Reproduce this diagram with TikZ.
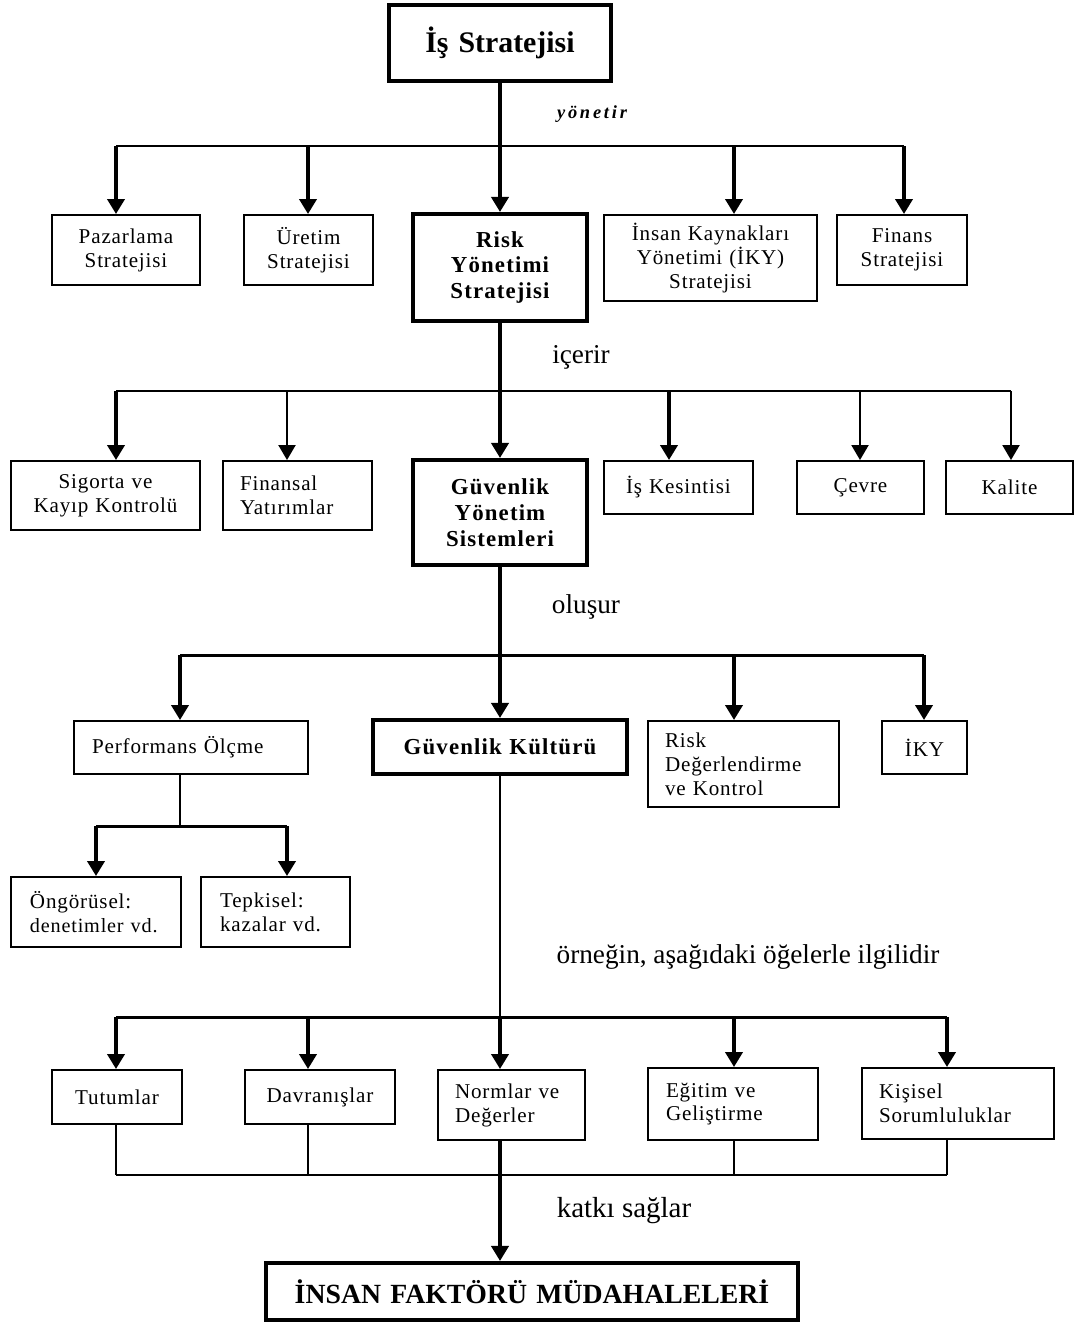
\documentclass[tikz,border=0pt]{standalone}
\usepackage{fontspec}
\setmainfont{Liberation Serif}
\newfontfamily\smallfam{Liberation Serif}[LetterSpace=4]
\newfontfamily\boldfam{Liberation Serif}[LetterSpace=5]
\newfontfamily\yonfam{Liberation Serif}[LetterSpace=15]
\newcommand\smallf{\smallfam\fontsize{12}{13.6}\selectfont}
\newcommand\bigf{\boldfam\bfseries\fontsize{13}{14.7}\selectfont}
\newcommand\titlef{\rmfamily\bfseries\fontsize{17}{20}\selectfont}
\newcommand\insanf{\rmfamily\bfseries\fontsize{15.8}{18}\selectfont}
\newcommand\lblf{\rmfamily\fontsize{15.5}{18}\selectfont}
\newcommand\katf{\rmfamily\fontsize{16.5}{19}\selectfont}
\newcommand\yonf{\yonfam\bfseries\itshape\fontsize{10.5}{12}\selectfont}
\usetikzlibrary{arrows.meta}
% name, x1, y1, x2, y2, style, pad(px), text
\newcommand\bx[8]{%
  \pgfmathsetlengthmacro\bxw{(#4-#2)*0.02cm}%
  \pgfmathsetlengthmacro\bxh{(#5-#3)*0.02cm}%
  \pgfmathsetlengthmacro\bxt{(#4-#2-2*#7)*0.02cm}%
  \node[#6, inner xsep=0pt, inner ysep=0pt, minimum width=\bxw, minimum height=\bxh, text width=\bxt] (#1) at ({(#2+#4)/2},{(#3+#5)/2}) {#8};}
\tikzset{
  box/.style={draw, line width=1.1pt, font=\smallf},
  tbox/.style={draw, line width=2.3pt, font=\bigf},
  stem/.style={line width=2.2pt, -{Triangle[width=0.34cm,length=0.3cm]}},
  tstem/.style={line width=1.2pt, -{Triangle[width=0.34cm,length=0.3cm]}},
  bus/.style={line width=1.7pt},
  thinline/.style={line width=1.1pt},
  lbl/.style={inner sep=0pt, anchor=center}
}
\begin{document}
\begin{tikzpicture}[x=0.02cm,y=-0.02cm]
\useasboundingbox[fill=white] (0,0) rectangle (1077,1322);

% ---- boxes ----
\bx{is}{389}{5}{611}{81}{tbox, font=\titlef, align=center}{0}{İş Stratejisi}
\bx{pazar}{52}{215}{200}{285}{box, align=center}{5}{Pazarlama\\Stratejisi}
\bx{uretim}{244}{215}{373}{285}{box, align=center}{5}{Üretim\\Stratejisi}
\bx{risk}{413}{214}{587}{321}{tbox, align=center}{5}{Risk\\Yönetimi\\Stratejisi}
\bx{ik}{604}{215}{817}{301}{box, align=center}{5}{İnsan Kaynakları\\Yönetimi (İKY)\\Stratejisi}
\bx{finans}{837}{215}{967}{285}{box, align=center}{5}{Finans\\Stratejisi}

\bx{sigorta}{11}{461}{200}{530}{box, align=center}{5}{Sigorta ve\\Kayıp Kontrolü}
\bx{finansal}{223}{461}{372}{530}{box, align=left}{17}{Finansal\\Yatırımlar}
\bx{gys}{413}{460}{587}{565}{tbox, align=center}{5}{Güvenlik\\Yönetim\\Sistemleri}
\bx{kesinti}{604}{461}{753}{514}{box, align=left}{22}{İş Kesintisi}
\bx{cevre}{797}{461}{924}{514}{box, align=center}{5}{Çevre}
\bx{kalite}{946}{461}{1073}{514}{box, align=center}{5}{Kalite}

\bx{perf}{74}{721}{308}{774}{box, align=left}{18}{Performans Ölçme}
\bx{gk}{373}{720}{627}{774}{tbox, align=center}{5}{Güvenlik Kültürü}
\bx{riskd}{648}{721}{839}{807}{box, align=left}{17}{Risk\\Değerlendirme\\ve Kontrol}
\bx{iky}{882}{721}{967}{774}{box, align=center}{5}{İKY}

\bx{ongor}{11}{877}{181}{947}{box, align=left}{4}{\hspace*{0.3cm}Öngörüsel:\\\hspace*{0.3cm}{\fontsize{11.5}{13.6}\selectfont denetimler vd.}}
\bx{tepki}{201}{877}{350}{947}{box, align=left}{19}{Tepkisel:\\kazalar vd.}

\bx{tutum}{52}{1070}{182}{1124}{box, align=center}{5}{Tutumlar}
\bx{davr}{245}{1070}{395}{1124}{box, align=center}{5}{Davranışlar}
\bx{norm}{438}{1070}{585}{1140}{box, align=left}{17}{Normlar ve\\Değerler}
\bx{egitim}{648}{1068}{818}{1140}{box, align=left}{18}{Eğitim ve\\Geliştirme}
\bx{kisisel}{862}{1068}{1054}{1139}{box, align=left}{17}{Kişisel\\Sorumluluklar}

\bx{insan}{266}{1263}{798}{1320}{tbox, font=\insanf, align=center}{0}{İNSAN FAKTÖRÜ MÜDAHALELERİ}

% ---- labels ----
\node[lbl, font=\yonf] (l1) at (592,114) {yönetir};
\node[lbl, font=\lblf] (l2) at (581,357) {içerir};
\node[lbl, font=\lblf] (l3) at (586,607) {oluşur};
\node[lbl, font=\lblf] (l4) at (748,957) {örneğin, aşağıdaki öğelerle ilgilidir};
\node[lbl, font=\katf] (l5) at (624,1211) {katkı sağlar};

% ---- level 1 ----
\coordinate (c11) at (116,146);
\coordinate (c12) at (308,146);
\coordinate (c13) at (500,146);
\coordinate (c14) at (734,146);
\coordinate (c15) at (904,146);
\draw[bus] (c11) -- (c15);
\draw[stem] (is.south) -- (risk.north);
\draw[stem] (c11) -- (c11 |- pazar.north);
\draw[stem] (c12) -- (c12 |- uretim.north);
\draw[stem] (c14) -- (c14 |- ik.north);
\draw[stem] (c15) -- (c15 |- finans.north);

% ---- level 2 ----
\coordinate (c21) at (116,391);
\coordinate (c22) at (287,391);
\coordinate (c24) at (669,391);
\coordinate (c25) at (860,391);
\coordinate (c26) at (1011,391);
\draw[bus] (c21) -- (c26);
\draw[stem] (risk.south) -- (gys.north);
\draw[stem] (c21) -- (c21 |- sigorta.north);
\draw[tstem] (c22) -- (c22 |- finansal.north);
\draw[stem] (c24) -- (c24 |- kesinti.north);
\draw[tstem] (c25) -- (c25 |- cevre.north);
\draw[tstem] (c26) -- (c26 |- kalite.north);

% ---- level 3 ----
\coordinate (c31) at (180,655);
\coordinate (c33) at (734,655);
\coordinate (c34) at (924,655);
\draw[bus] (c31) -- (c34);
\draw[stem] (gys.south) -- (gk.north);
\draw[stem] (c31) -- (c31 |- perf.north);
\draw[stem] (c33) -- (c33 |- riskd.north);
\draw[stem] (c34) -- (c34 |- iky.north);

% ---- performance sub-branch ----
\coordinate (c40) at (180,826);
\coordinate (c41) at (96,826);
\coordinate (c42) at (287,826);
\draw[thinline] (c40 |- perf.south) -- (c40);
\draw[bus] (c41) -- (c42);
\draw[stem] (c41) -- (c41 |- ongor.north);
\draw[stem] (c42) -- (c42 |- tepki.north);

% ---- level 4 ----
\coordinate (c51) at (116,1017);
\coordinate (c52) at (308,1017);
\coordinate (c53) at (500,1017);
\coordinate (c54) at (734,1017);
\coordinate (c55) at (947,1017);
\draw[bus] (c51) -- (c55);
\draw[thinline] (gk.south) -- (c53);
\draw[stem] (c51) -- (c51 |- tutum.north);
\draw[stem] (c52) -- (c52 |- davr.north);
\draw[stem] (c53) -- (c53 |- norm.north);
\draw[stem] (c54) -- (c54 |- egitim.north);
\draw[stem] (c55) -- (c55 |- kisisel.north);

% ---- collector ----
\coordinate (c61) at (116,1175);
\coordinate (c62) at (308,1175);
\coordinate (c63) at (500,1175);
\coordinate (c64) at (734,1175);
\coordinate (c65) at (947,1175);
\draw[thinline] (c61) -- (c65);
\draw[thinline] (c61 |- tutum.south) -- (c61);
\draw[thinline] (c62 |- davr.south) -- (c62);
\draw[thinline] (c64 |- egitim.south) -- (c64);
\draw[thinline] (c65 |- kisisel.south) -- (c65);
\draw[stem] (c63 |- norm.south) -- (c63 |- insan.north);
\end{tikzpicture}
\end{document}
